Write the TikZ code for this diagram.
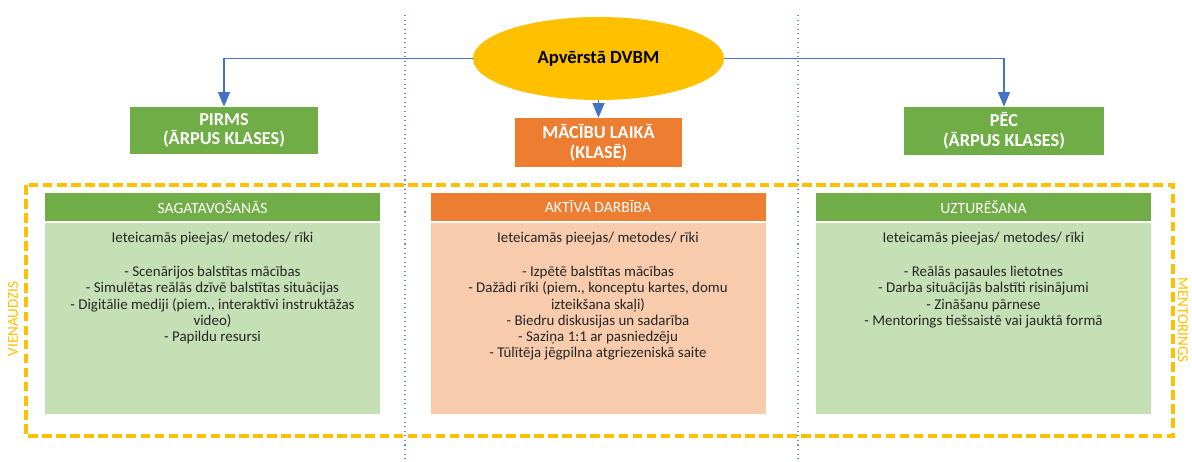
\documentclass[tikz,border=0pt]{standalone}
\usepackage{fontspec}
\setmainfont{Carlito}
\usepackage{tikz}
\usetikzlibrary{arrows}
\usetikzlibrary{shapes.geometric}

\definecolor{dvgreen}{HTML}{70AD47}
\definecolor{dvlgreen}{HTML}{C5E0B4}
\definecolor{dvorange}{HTML}{ED7D31}
\definecolor{dvlorange}{HTML}{F8CBAD}
\definecolor{dvgold}{HTML}{FFC000}
\definecolor{dvblue}{HTML}{4472C4}

\begin{document}
\begin{tikzpicture}[
        topbox/.style={text=white, font=\fontsize{10.4}{11.2}\selectfont\bfseries, align=center, inner sep=0pt},
        head/.style={minimum width=6.7cm, minimum height=0.56cm, text=white, font=\fontsize{8.9}{10}\selectfont, inner sep=0pt},
        body/.style={minimum width=6.7cm, minimum height=3.82cm, inner sep=0pt},
        list/.style={align=center, font=\fontsize{8.5}{9.25}\selectfont, text=black!85, inner sep=0pt, anchor=north},
        link/.style={-triangle 45, dvblue, line width=0.9pt},
        side/.style={text=dvgold, font=\fontsize{8.6}{10}\selectfont, inner sep=0pt}]
        \useasboundingbox (0, 0) rectangle (23.84, -9.24);

        % columns
        \foreach \x in {8.10, 15.96}
        {
            \draw[dvblue!80, dotted, line width=0.6pt] (\x, -0.30) -- (\x, -9.24);
        }

        % top
        \node[ellipse, fill=dvgold, minimum width=5.02cm, minimum height=1.66cm, inner sep=0pt,
            font=\fontsize{10.6}{12}\selectfont\bfseries] (root) at (11.97, -1.17) {Apvērstā DVBM};
        \node[topbox, fill=dvgreen, minimum width=3.76cm, minimum height=0.94cm] (pirms) at (4.48, -2.61) {PIRMS\\(ĀRPUS KLASES)};
        \node[topbox, fill=dvorange, minimum width=3.34cm, minimum height=0.98cm] (laika) at (11.97, -2.85) {MĀCĪBU LAIKĀ\\(KLASĒ)};
        \node[topbox, fill=dvgreen, minimum width=4.0cm, minimum height=0.96cm] (pec) at (20.08, -2.62) {PĒC\\(ĀRPUS KLASES)};
        \draw[link] (root.west) -| (pirms.north);
        \draw[link] (root.east) -| (pec.north);
        \draw[link] (root.south) -- (laika.north);

        % panels
        \draw[dvgold, line width=2pt, dash pattern=on 5.5pt off 2.5pt] (0.52, -3.70) rectangle (23.46, -8.72);
        \foreach \x/\name/\hc/\bc/\title in {4.25/prep/dvgreen/dvlgreen/SAGATAVOŠANĀS,
            11.96/act/dvorange/dvlorange/AKTĪVA DARBĪBA, 19.67/keep/dvgreen/dvlgreen/UZTURĒŠANA}
        {
            \node[head, fill=\hc] (\name-head) at (\x, -4.14) {\title};
            \node[body, fill=\bc] (\name) at (\x, -6.37) {};
        }
        \node[list] (prep-text) at (4.25, -4.64) {Ieteicamās pieejas/ metodes/ rīki\\[10pt]
            - Scenārijos balstītas mācības\\
            - Simulētas reālās dzīvē balstītas situācijas\\
            - Digitālie mediji (piem., interaktīvi instruktāžas\\
            video)\\
            - Papildu resursi};
        \node[list] (act-text) at (11.96, -4.64) {Ieteicamās pieejas/ metodes/ rīki\\[10pt]
            - Izpētē balstītas mācības\\
            - Dažādi rīki (piem., konceptu kartes, domu\\
            izteikšana skaļi)\\
            - Biedru diskusijas un sadarība\\
            - Saziņa 1:1 ar pasniedzēju\\
            - Tūlītēja jēgpilna atgriezeniskā saite};
        \node[list] (keep-text) at (19.67, -4.64) {Ieteicamās pieejas/ metodes/ rīki\\[10pt]
            - Reālās pasaules lietotnes\\
            - Darba situācijās balstīti risinājumi\\
            - Zināšanu pārnese\\
            - Mentorings tiešsaistē vai jauktā formā};

        \node[side, rotate=90] (solo) at (0.26, -6.38) {VIENAUDZIS};
        \node[side, rotate=-90] (mentor) at (23.66, -6.40) {MENTORINGS};
    \end{tikzpicture}
\end{document}
